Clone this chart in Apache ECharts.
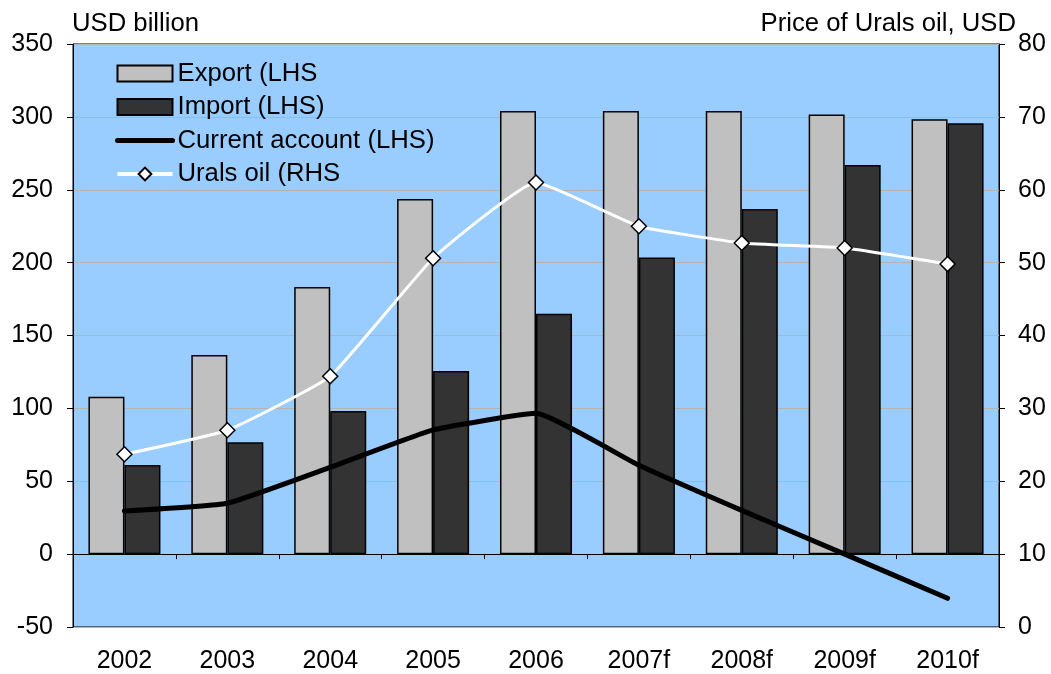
<!DOCTYPE html>
<html><head><meta charset="utf-8">
<script src="https://cdn.jsdelivr.net/npm/echarts@6/dist/echarts.min.js"></script>
<style>html,body{margin:0;padding:0;background:#fff}#c{width:1051px;height:674px}</style>
</head><body><div id="c"></div>
<script>
var categories = ['2002','2003','2004','2005','2006','2007f','2008f','2009f','2010f'];
var exportVals = [108, 136.6, 183.3, 243.6, 304, 304, 304, 301.7, 298.3];
var importVals = [61.2, 76.7, 98.2, 125.6, 165, 203.6, 236.8, 267, 295.7];
var currentAccount = [29.6, 34.9, 59.5, 85.2, 96.6, 61, 30, 0, -30.3];
var uralsOil = [23.7, 27.0, 34.4, 50.6, 61.0, 55.0, 52.7, 52.0, 49.8];
var leftTicks = {min: -50, max: 350, interval: 50};
var rightTicks = {min: 0, max: 80, interval: 10};

var FONT = 'Liberation Sans';
var FS = 25;
var FS2 = 25.7;
var chart = echarts.init(document.getElementById('c'), null, {renderer: 'canvas'});
chart.setOption({
  animation: false,
  textStyle: {fontFamily: FONT, color: '#000'},
  grid: {left: 73, right: 52, top: 44, bottom: 46, show: true, backgroundColor: '#99CCFF', borderColor: '#000', borderWidth: 1},
  legend: {
    orient: 'vertical', left: 110, top: 55.5, itemWidth: 55, itemHeight: 16, itemGap: 7.5,
    textStyle: {fontSize: FS2, color: '#000', fontFamily: FONT},
    data: [
      {name: 'Export (LHS', icon: 'rect'},
      {name: 'Import (LHS)', icon: 'rect'},
      {name: 'Current account (LHS)', itemStyle: {opacity: 0}, lineStyle: {width: 5, color: '#000', cap: 'round'}},
      {name: 'Urals oil (RHS', lineStyle: {width: 4, color: '#fff'}}
    ]
  },
  graphic: [
    {type: 'text', left: 72, top: 11, style: {text: 'USD billion', font: FS2 + 'px "Liberation Sans"', fill: '#000'}},
    {type: 'text', right: 35, top: 11, style: {text: 'Price of Urals oil, USD', font: FS2 + 'px "Liberation Sans"', fill: '#000'}}
  ],
  xAxis: [
    {type: 'category', data: categories, boundaryGap: true,
     axisLine: {onZero: true, lineStyle: {color: '#000', width: 1}},
     axisTick: {show: true, length: 5, lineStyle: {color: '#000'}},
     axisLabel: {show: false}},
    {type: 'category', data: categories, position: 'bottom', boundaryGap: true,
     axisLine: {show: false}, axisTick: {show: false},
     axisLabel: {fontSize: FS, color: '#000', margin: 22, fontFamily: FONT}}
  ],
  yAxis: [
    {type: 'value', min: leftTicks.min, max: leftTicks.max, interval: leftTicks.interval, position: 'left',
     axisLine: {show: true, lineStyle: {color: '#000'}},
     axisTick: {show: true, length: 6, lineStyle: {color: '#000'}},
     axisLabel: {fontSize: FS, color: '#000', margin: 20, fontFamily: FONT},
     splitLine: {show: true, lineStyle: {color: '#b4b4b4', width: 1}}},
    {type: 'value', min: rightTicks.min, max: rightTicks.max, interval: rightTicks.interval, position: 'right',
     axisLine: {show: true, lineStyle: {color: '#000'}},
     axisTick: {show: true, length: 6, lineStyle: {color: '#000'}},
     axisLabel: {fontSize: FS, color: '#000', margin: 19, fontFamily: FONT},
     splitLine: {show: false}}
  ],
  series: [
    {name: 'Export (LHS', type: 'bar', data: exportVals, xAxisIndex: 0, yAxisIndex: 0,
     barGap: '0%', barCategoryGap: '30%',
     itemStyle: {color: '#C0C0C0', borderColor: '#000', borderWidth: 1.5}, z: 2},
    {name: 'Import (LHS)', type: 'bar', data: importVals, xAxisIndex: 0, yAxisIndex: 0,
     barGap: '0%', barCategoryGap: '30%',
     itemStyle: {color: '#333333', borderColor: '#000', borderWidth: 1.5}, z: 2},
    {name: 'Current account (LHS)', type: 'line', data: currentAccount, xAxisIndex: 0, yAxisIndex: 0,
     smooth: 0.12, symbol: 'none', lineStyle: {color: '#000', width: 5, cap: 'round', join: 'round'}, itemStyle: {color: '#000'}, z: 3},
    {name: 'Urals oil (RHS', type: 'line', data: uralsOil, xAxisIndex: 0, yAxisIndex: 1,
     smooth: 0.12, symbol: 'diamond', symbolSize: 15, showSymbol: true,
     lineStyle: {color: '#fff', width: 3},
     itemStyle: {color: '#fff', borderColor: '#000', borderWidth: 1.5}, z: 4}
  ]
});
</script></body></html>
